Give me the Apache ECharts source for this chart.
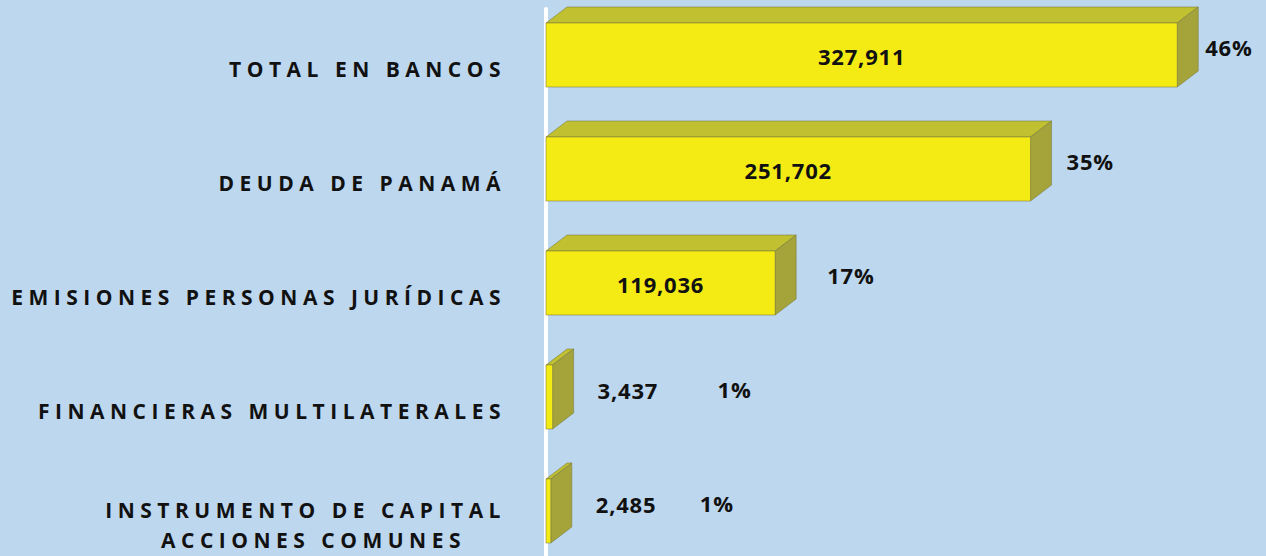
<!DOCTYPE html>
<html>
<head>
    <meta charset="utf-8">
    <title>Cartera</title>
    <script src="https://cdn.jsdelivr.net/npm/echarts@6/dist/echarts.min.js"></script>
    <style type="text/css">
        html, body { margin: 0; padding: 0; background: #BDD7EE; }
        #main { width: 1266px; height: 556px; }
        /* category labels are spaced out like the original */
        #main text[style*="21px"] { letter-spacing: 5.5px; }
        #main text[style*="22px"] { letter-spacing: 0.8px; }
    </style>
</head>
<body>
<div id="main"></div>
<script type="text/javascript">
    // data
    var categories = ['TOTAL EN BANCOS', 'DEUDA DE PANAMÁ', 'EMISIONES PERSONAS JURÍDICAS',
        'FINANCIERAS MULTILATERALES', 'INSTRUMENTO DE CAPITAL\nACCIONES COMUNES'];
    var values = [327911, 251702, 119036, 3437, 2485];
    var shares = ['46%', '35%', '17%', '1%', '1%'];

    // label gaps (px) after the bar's side face, per bar
    var shareGap = [7, 15, 31, 144, 128];

    var FRONT = '#F5EB14', TOP = '#C0C030', SIDE = '#A4A43A', EDGE = 'rgba(120,120,60,0.55)';
    var DX = 21, DY = 16, BAR_H = 64;
    var valueFont = 'bold 22px "Open Sans"';
    var labelStyle = {fontSize: 21, fontWeight: 'bold', fontFamily: 'Open Sans', color: '#111', lineHeight: 30};

    var chart = echarts.init(document.getElementById('main'), null, {renderer: 'svg'});

    function renderBar(params, api) {
        var i = api.value(1);
        var base = api.coord([0, i]);
        var end = api.coord([api.value(0), i]);
        var x0 = base[0], x1 = end[0];
        var yc = base[1] - 14;
        var top = yc - BAR_H / 2, bot = yc + BAR_H / 2;
        var sideEnd = x1 + DX;
        var wide = (x1 - x0) > 150;
        var valText = api.value(0).toLocaleString('en-US');
        return {
            type: 'group',
            children: [
                {type: 'polygon', shape: {points: [[x0, top], [x0 + DX, top - DY], [x1 + DX, top - DY], [x1, top]]},
                    style: {fill: TOP, stroke: EDGE, lineWidth: 1}},
                {type: 'polygon', shape: {points: [[x1, top], [x1 + DX, top - DY], [x1 + DX, bot - DY], [x1, bot]]},
                    style: {fill: SIDE, stroke: EDGE, lineWidth: 1}},
                {type: 'rect', shape: {x: x0, y: top, width: x1 - x0, height: BAR_H},
                    style: {fill: FRONT, stroke: EDGE, lineWidth: 1}},
                {type: 'text', x: wide ? (x0 + x1) / 2 : sideEnd + 24, y: wide ? yc + 1 : yc - 7,
                    style: {text: valText, font: valueFont, fill: '#111', align: wide ? 'center' : 'left', verticalAlign: 'middle'}},
                {type: 'text', x: sideEnd + shareGap[i], y: yc - 8,
                    style: {text: shares[i], font: valueFont, fill: '#111', align: 'left', verticalAlign: 'middle'}}
            ]
        };
    }

    chart.setOption({
        backgroundColor: '#BDD7EE',
        animation: false,
        grid: [
            {left: 546, top: 69, width: 693, height: 456},
            {left: 546, top: 9, width: 693, bottom: 0}
        ],
        xAxis: [
            {type: 'value', min: 0, max: 360000, show: false, gridIndex: 0},
            {type: 'value', min: 0, max: 360000, show: false, gridIndex: 1}
        ],
        yAxis: [{
            type: 'category',
            gridIndex: 0,
            inverse: true,
            boundaryGap: false,
            data: categories,
            offset: 16,
            axisLine: {show: false},
            axisTick: {show: false},
            splitLine: {show: false},
            axisLabel: Object.assign({
                margin: 24,
                formatter: function (v) {
                    if (v.indexOf('\n') < 0) return v;
                    var parts = v.split('\n');
                    return '{a|' + parts[0] + '}\n{b|' + parts[1] + '}';
                },
                rich: {
                    a: labelStyle,
                    b: Object.assign({padding: [0, 40, 0, 0]}, labelStyle)
                }
            }, labelStyle)
        }, {
            // the white vertical line of the chart
            type: 'value',
            gridIndex: 1,
            offset: 16,
            axisLine: {show: true, lineStyle: {color: '#FFFFFF', width: 4}},
            axisTick: {show: false},
            axisLabel: {show: false},
            splitLine: {show: false}
        }],
        series: [{
            type: 'custom',
            xAxisIndex: 0,
            yAxisIndex: 0,
            renderItem: renderBar,
            encode: {x: 0, y: 1},
            data: values.map(function (v, i) { return [v, i]; })
        }]
    });
</script>
</body>
</html>
